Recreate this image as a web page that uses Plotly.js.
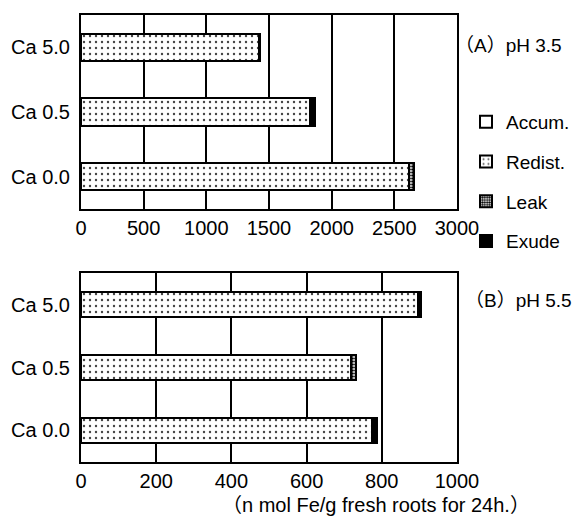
<!DOCTYPE html>
<html>
<head>
<meta charset="utf-8">
<script src="https://cdn.plot.ly/plotly-3.0.1.min.js"></script>
<style>html,body{margin:0;padding:0;background:#fff;}#chart{width:588px;height:520px;}</style>
</head>
<body>
<div id="chart"></div>
<script>
// Categories (bottom to top)
const categories = ["Ca 0.0", "Ca 0.5", "Ca 5.0"];
const seriesNames = ["Accum.", "Redist.", "Leak", "Exude"];

// (A) pH 3.5
const accumA = [0, 0, 0];
const redistA = [2620, 1830, 1420];
const leakA = [35, 0, 0];
const exudeA = [0, 40, 10];

// (B) pH 5.5
const accumB = [0, 0, 0];
const redistB = [775, 718, 895];
const leakB = [0, 14, 0];
const exudeB = [12, 0, 8];

const panelLabels = ["（A）pH 3.5", "（B）pH 5.5"];
const unitLabel = "（n mol Fe/g fresh roots for 24h.）";

const styles = [
  {color: "#ffffff", pattern: {shape: ""}},
  {color: "#ffffff", pattern: {shape: ".", fgcolor: "#444", bgcolor: "#ffffff", size: 6, solidity: 0.12}},
  {color: "#ffffff", pattern: {shape: ".", fgcolor: "#000", bgcolor: "#ffffff", size: 3, solidity: 0.55}},
  {color: "#000000", pattern: {shape: ""}}
];

const seriesA = [accumA, redistA, leakA, exudeA];
const seriesB = [accumB, redistB, leakB, exudeB];
const traces = [];
seriesA.forEach((vals, i) => {
  traces.push({
    type: "bar", orientation: "h", y: categories, x: vals, name: seriesNames[i],
    xaxis: "x", yaxis: "y", width: 0.42, legendgroup: "g" + i, showlegend: true,
    marker: {color: styles[i].color, pattern: styles[i].pattern, line: {color: "#000", width: 2}},
    hoverinfo: "x+name"
  });
});
seriesB.forEach((vals, i) => {
  traces.push({
    type: "bar", orientation: "h", y: categories, x: vals, name: seriesNames[i],
    xaxis: "x2", yaxis: "y2", width: 0.4, legendgroup: "g" + i, showlegend: false,
    marker: {color: styles[i].color, pattern: styles[i].pattern, line: {color: "#000", width: 2}},
    hoverinfo: "x+name"
  });
});

const fontFam = "Liberation Sans, Arial, Noto Sans CJK JP, sans-serif";
const axisCommon = {
  showline: true, mirror: true, linecolor: "#000", linewidth: 2,
  showgrid: true, gridcolor: "#000", gridwidth: 2, zeroline: false,
  ticks: "", tickfont: {family: fontFam, size: 20, color: "#000"}, fixedrange: true
};
const yCommon = {
  showline: true, mirror: true, linecolor: "#000", linewidth: 2,
  showgrid: false, zeroline: false, ticks: "", range: [-0.5, 2.5],
  tickfont: {family: fontFam, size: 20, color: "#000"}, ticklabelstandoff: 5, fixedrange: true
};

const layout = {
  width: 588, height: 520,
  margin: {l: 81, r: 131, t: 15, b: 58},
  paper_bgcolor: "#fff", plot_bgcolor: "#fff",
  barmode: "stack",
  showlegend: true,
  legend: {
    xref: "container", yref: "container", x: 466 / 588, y: 1 - 103 / 520, xanchor: "left", yanchor: "top",
    font: {family: fontFam, size: 19, color: "#000"}, tracegroupgap: 12,
    traceorder: "grouped", bgcolor: "rgba(0,0,0,0)", itemwidth: 30
  },
  xaxis: Object.assign({}, axisCommon, {anchor: "y", range: [0, 3000], dtick: 500, tick0: 0}),
  yaxis: Object.assign({}, yCommon, {anchor: "x", domain: [0.566, 1]}),
  xaxis2: Object.assign({}, axisCommon, {anchor: "y2", range: [0, 1000], dtick: 200, tick0: 0}),
  yaxis2: Object.assign({}, yCommon, {anchor: "x2", domain: [0, 0.4228]}),
  annotations: [
    {text: panelLabels[0], xref: "paper", yref: "paper", x: (453 - 81) / 376, y: (462 - 45) / 447, xanchor: "left", yanchor: "middle", showarrow: false, font: {family: fontFam, size: 19, color: "#000"}},
    {text: panelLabels[1], xref: "paper", yref: "paper", x: (463 - 81) / 376, y: (462 - 300) / 447, xanchor: "left", yanchor: "middle", showarrow: false, font: {family: fontFam, size: 19, color: "#000"}},
    {text: unitLabel, xref: "paper", yref: "paper", x: (376 - 81) / 376, y: (462 - 505) / 447, xanchor: "center", yanchor: "middle", showarrow: false, font: {family: fontFam, size: 20, color: "#000"}}
  ]
};

Plotly.newPlot("chart", traces, layout, {displayModeBar: false, staticPlot: true});
</script>
</body>
</html>
